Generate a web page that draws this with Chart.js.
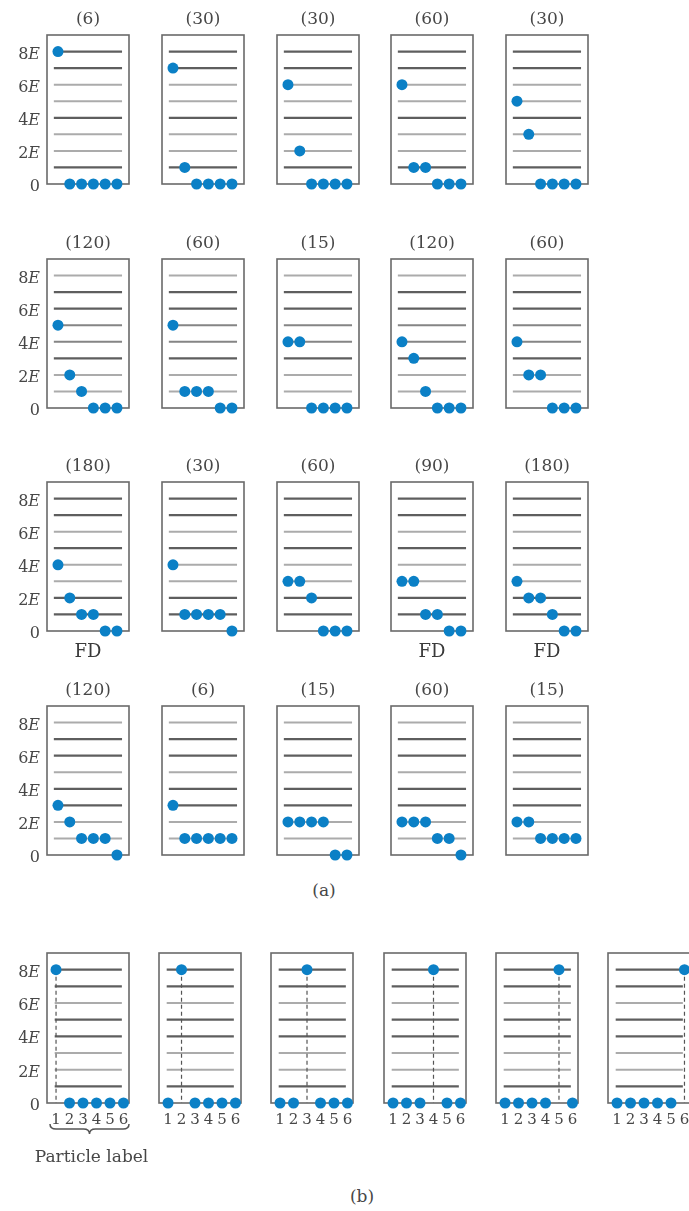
<!DOCTYPE html>
<html>
<head>
<meta charset="utf-8">
<title>Six particles sharing 8E</title>
<script src="https://cdn.jsdelivr.net/npm/chart.js@4.4.1/dist/chart.umd.min.js"></script>
<style>
  html, body { margin: 0; padding: 0; background: #fff; }
  #page { position: relative; width: 689px; height: 1211px; overflow: hidden; }
  #page canvas { position: absolute; }
  .caption { position: absolute; transform: translate(-50%, -50%); font: 17px "DejaVu Serif", serif; color: #474747; }
</style>
</head>
<body>
<div id="page">
  <div class="caption" style="left:324px; top:890px">(a)</div>
  <div class="caption" style="left:362px; top:1196px">(b)</div>
</div>
<script>
// number of arrangements written above each panel of part (a)
const waysA = [6, 30, 30, 60, 30, 120, 60, 15, 120, 60, 180, 30, 60, 90, 180, 120, 6, 15, 60, 15];

// energy (units of E) of particles 1..6 in each panel of part (a)
const energiesA = [
  [8, 0, 0, 0, 0, 0], [7, 1, 0, 0, 0, 0], [6, 2, 0, 0, 0, 0], [6, 1, 1, 0, 0, 0], [5, 3, 0, 0, 0, 0],
  [5, 2, 1, 0, 0, 0], [5, 1, 1, 1, 0, 0], [4, 4, 0, 0, 0, 0], [4, 3, 1, 0, 0, 0], [4, 2, 2, 0, 0, 0],
  [4, 2, 1, 1, 0, 0], [4, 1, 1, 1, 1, 0], [3, 3, 2, 0, 0, 0], [3, 3, 1, 1, 0, 0], [3, 2, 2, 1, 0, 0],
  [3, 2, 1, 1, 1, 0], [3, 1, 1, 1, 1, 1], [2, 2, 2, 2, 0, 0], [2, 2, 2, 1, 1, 0], [2, 2, 1, 1, 1, 1]
];

// panels of part (a) marked FD
const fdPanels = [10, 13, 14];

// part (b): a single particle holds all of the 8E
const energiesB = [
  [8, 0, 0, 0, 0, 0], [0, 8, 0, 0, 0, 0], [0, 0, 8, 0, 0, 0],
  [0, 0, 0, 8, 0, 0], [0, 0, 0, 0, 8, 0], [0, 0, 0, 0, 0, 8]
];

const levels = [1, 2, 3, 4, 5, 6, 7, 8];
const yTickValues = [0, 2, 4, 6, 8];
const yTickLabels = ['0', '2E', '4E', '6E', '8E'];
const particleLabels = ['1', '2', '3', '4', '5', '6'];

// styles
const DOT = '#0b80c6';
const SHADE = {
  D: { color: '#5e5e5e', width: 2.2 },
  M: { color: '#858585', width: 2 },
  L: { color: '#ababab', width: 2 }
};
// shade of level lines 8 down to 1, per row (scan look)
const shadeRowsA = ['DDLLDLLD', 'LDDMMDLL', 'DDLDLLDD', 'LDDLDDLL'];
const shadeB = 'DDLDDLLD';
const TEXT = '#474747';

const panelDeco = {
  id: 'panelDeco',
  beforeDatasetsDraw(chart) {
    const a = chart.chartArea, ctx = chart.ctx;
    ctx.save();
    ctx.strokeStyle = '#6a6a6a';
    ctx.lineWidth = 1.6;
    ctx.strokeRect(a.left, a.top, a.right - a.left, a.bottom - a.top);
    ctx.restore();
  },
  afterDraw(chart, args, o) {
    const a = chart.chartArea, ctx = chart.ctx;
    const xs = chart.scales.x, ys = chart.scales.y;
    const cx = (a.left + a.right) / 2;
    ctx.save();
    ctx.fillStyle = TEXT;
    ctx.textAlign = 'center';
    ctx.textBaseline = 'middle';
    ctx.font = '17px "DejaVu Serif", serif';
    if (o.title) ctx.fillText(o.title, cx, a.top - 15);
    if (o.fd) {
      ctx.font = '18px "DejaVu Serif", serif';
      ctx.fillStyle = '#3a3a3a';
      ctx.fillText('FD', cx, a.bottom + 21);
      ctx.fillStyle = TEXT;
    }

    if (o.yLabels) {
      ctx.textAlign = 'right';
      yTickValues.forEach((v, i) => {
        const lab = yTickLabels[i];
        const y = ys.getPixelForValue(v) + 3;
        let x = a.left - 7;
        if (lab.endsWith('E')) {
          ctx.font = 'italic 16px "DejaVu Serif", serif';
          ctx.fillText('E', x, y);
          x -= ctx.measureText('E').width;
        }
        ctx.font = '16px "DejaVu Serif", serif';
        ctx.fillText(lab.replace('E', ''), x, y);
      });
    }

    if (o.xLabels) {
      ctx.textAlign = 'center';
      ctx.font = '15px "DejaVu Serif", serif';
      particleLabels.forEach((lab, i) => ctx.fillText(lab, xs.getPixelForValue(i + 1), a.bottom + 17));
    }

    if (o.brace) {
      const x0 = a.left + 3, x1 = a.right, bx = (x0 + x1) / 2;
      const yTop = a.bottom + 21, yMid = a.bottom + 26, yTip = a.bottom + 31;
      ctx.strokeStyle = '#555';
      ctx.lineWidth = 1.5;
      ctx.beginPath();
      ctx.moveTo(x0, yTop);
      ctx.quadraticCurveTo(x0, yMid, x0 + 6, yMid);
      ctx.lineTo(bx - 6, yMid);
      ctx.quadraticCurveTo(bx, yMid, bx, yTip);
      ctx.quadraticCurveTo(bx, yMid, bx + 6, yMid);
      ctx.lineTo(x1 - 6, yMid);
      ctx.quadraticCurveTo(x1, yMid, x1, yTop);
      ctx.stroke();
      ctx.font = '17px "DejaVu Serif", serif';
      ctx.textAlign = 'center';
      ctx.fillText('Particle label', bx + 2, a.bottom + 55);
    }
    ctx.restore();
  }
};

const page = document.getElementById('page');

function panel(left, top, w, h, pad, xRange, lineSpan, energies, shades, deco, dashed) {
  const cv = document.createElement('canvas');
  cv.width = pad.left + w + pad.right;
  cv.height = pad.top + h + pad.bottom;
  cv.style.left = (left - pad.left) + 'px';
  cv.style.top = (top - pad.top) + 'px';
  page.appendChild(cv);

  const datasets = [{
    data: energies.map((e, i) => ({ x: i + 1, y: e })),
    pointRadius: 5.5,
    pointHoverRadius: 5.5,
    backgroundColor: DOT,
    borderWidth: 0,
    clip: false,
    order: 0
  }];
  levels.forEach(L => {
    const s = SHADE[shades[8 - L]];
    datasets.push({
      data: [{ x: lineSpan[0], y: L }, { x: lineSpan[1], y: L }],
      showLine: true,
      pointRadius: 0,
      borderColor: s.color,
      borderWidth: s.width,
      order: 2
    });
  });
  if (dashed) {
    const k = energies.findIndex(e => e > 0) + 1;
    datasets.push({
      data: [{ x: k, y: energies[k - 1] }, { x: k, y: 0 }],
      showLine: true,
      pointRadius: 0,
      borderColor: '#555',
      borderWidth: 1.2,
      borderDash: [4, 3],
      order: 1
    });
  }

  new Chart(cv, {
    type: 'scatter',
    data: { datasets },
    options: {
      responsive: false,
      animation: false,
      events: [],
      layout: { padding: pad },
      scales: {
        x: { type: 'linear', min: xRange[0], max: xRange[1], display: false },
        y: { type: 'linear', min: 0, max: 9, display: false }
      },
      plugins: {
        legend: { display: false },
        tooltip: { enabled: false },
        panelDeco: deco
      }
    },
    plugins: [panelDeco]
  });
}

// part (a): 4 rows x 5 columns
energiesA.forEach((en, i) => {
  const r = Math.floor(i / 5), c = i % 5;
  panel(
    Math.round(47 + c * 114.8), Math.round(35 + r * 223.7), 82, 149,
    { left: c === 0 ? 46 : 14, right: 14, top: 32, bottom: 32 },
    [0.07, 7.02], [0.65, 6.43], en, shadeRowsA[r],
    { title: '(' + waysA[i] + ')', fd: fdPanels.includes(i), yLabels: c === 0 },
    false
  );
});

// part (b): 6 panels in one row
energiesB.forEach((en, c) => {
  panel(
    Math.round(47 + c * 112.2), 953, 82, 150,
    { left: c === 0 ? 46 : 14, right: c === 0 ? 34 : 14, top: 10, bottom: 70 },
    [0.33, 6.41], [0.9, 5.88], en, shadeB,
    { yLabels: c === 0, xLabels: true, brace: c === 0 },
    true
  );
});
</script>
</body>
</html>
